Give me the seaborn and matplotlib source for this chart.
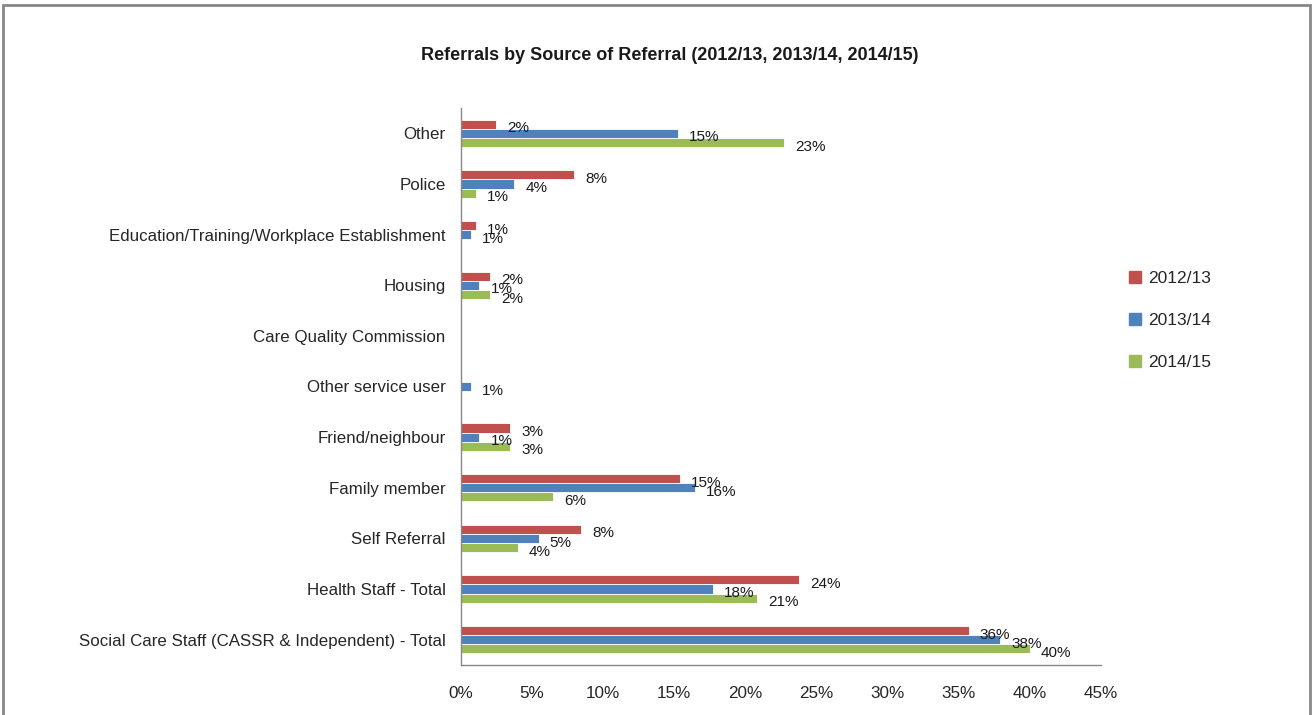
import matplotlib
matplotlib.use("Agg")
import matplotlib.pyplot as plt
import matplotlib.patches as mpatches
import seaborn as sns
import pandas as pd

sources = [
    "Other",
    "Police",
    "Education/Training/Workplace Establishment",
    "Housing",
    "Care Quality Commission",
    "Other service user",
    "Friend/neighbour",
    "Family member",
    "Self Referral",
    "Health Staff - Total",
    "Social Care Staff (CASSR & Independent) - Total",
]
years = ["2012/13", "2013/14", "2014/15"]
pct_2012 = [2.45, 7.96, 1.05, 2.04, 0, 0, 3.45, 15.4, 8.45, 23.8, 35.7]
pct_2013 = [15.26, 3.74, 0.68, 1.29, 0, 0.68, 1.29, 16.45, 5.45, 17.7, 37.9]
pct_2014 = [22.7, 1.05, 0, 2.04, 0, 0, 3.45, 6.49, 3.99, 20.8, 40.0]
colors = ["#C0504D", "#4F81BD", "#9BBB59"]

df = pd.DataFrame({
    "source": sources * 3,
    "year": [y for y in years for _ in sources],
    "pct": pct_2012 + pct_2013 + pct_2014,
})

sns.set_style("white")
plt.rcParams["font.family"] = ["Liberation Sans", "DejaVu Sans"]

fig = plt.figure(figsize=(13.15, 7.15), dpi=100)
ax = fig.add_axes([461 / 1315, 50 / 715, 640 / 1315, 557 / 715])

sns.barplot(data=df, y="source", x="pct", hue="year", hue_order=years,
            order=sources, orient="h", palette=colors, width=0.54,
            saturation=1, ax=ax, legend=False)

# value labels just past the end of each non-empty bar
for cont in ax.containers:
    for bar in cont:
        bar.set_edgecolor("white")
        bar.set_linewidth(0.6)
        v = bar.get_width()
        if v > 0:
            ax.annotate(f"{v:.0f}%", xy=(v, bar.get_y() + bar.get_height() / 2),
                        xytext=(8, -3), textcoords="offset points",
                        ha="left", va="center", fontsize=11, color="#1a1a1a")

ax.set_xlim(0, 45)
ax.set_ylim(len(sources) - 0.5, -0.5)
ax.set_xticks(range(0, 50, 5))
ax.set_xticklabels([f"{t}%" for t in range(0, 50, 5)], fontsize=12.3)
ax.set_yticks([i - 0.5 for i in range(len(sources) + 1)], minor=True)
ax.set_yticks(range(len(sources)))
ax.set_yticklabels(sources, fontsize=12.2)
ax.tick_params(axis="y", which="major", length=0, pad=11)
ax.tick_params(axis="y", which="minor", length=5, color="#888888", width=1)
ax.tick_params(axis="x", length=5, color="#888888", width=1, pad=10, direction="out")
ax.set_xlabel("")
ax.set_ylabel("")
for side in ["top", "right"]:
    ax.spines[side].set_visible(False)
for side in ["left", "bottom"]:
    ax.spines[side].set_color("#888888")
    ax.spines[side].set_linewidth(1)
ax.grid(False)

handles = [mpatches.Patch(color=c, label=y) for c, y in zip(colors, years)]
fig.legend(handles=handles, loc="upper left", bbox_to_anchor=(1122 / 1315, 1 - 264 / 715),
           frameon=False, fontsize=12.5, handlelength=0.7, handleheight=0.7,
           handletextpad=0.4, labelspacing=1.55, borderaxespad=0)

fig.text(670 / 1315, 1 - 55 / 715, "Referrals by Source of Referral (2012/13, 2013/14, 2014/15)",
         ha="center", va="center", fontsize=13, fontweight="bold", color="#1a1a1a")

fig.patches.append(mpatches.Rectangle((3 / 1315, -0.02), 1307 / 1315, 1.02 - 5 / 715,
                                      transform=fig.transFigure, fill=False,
                                      edgecolor="#888888", linewidth=2))

fig.savefig("out.png", dpi=100)
